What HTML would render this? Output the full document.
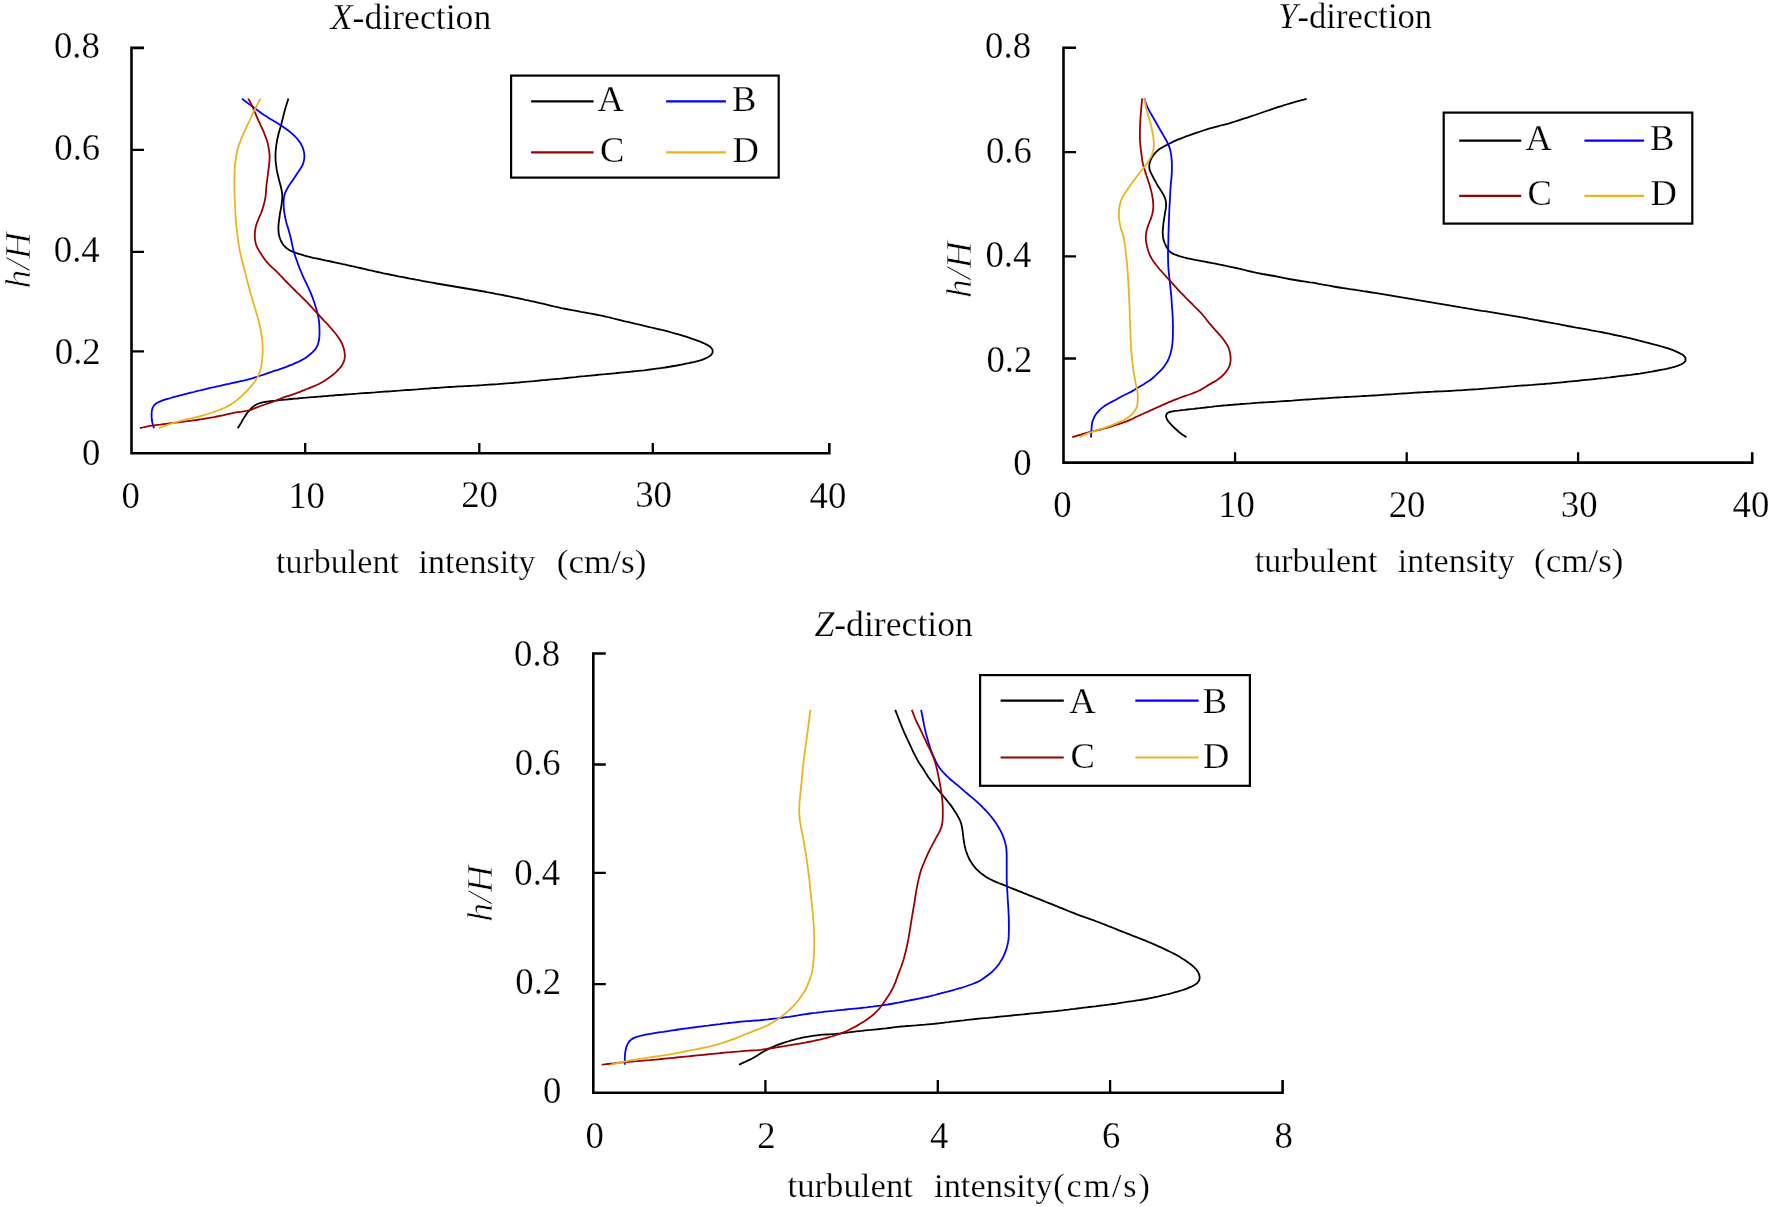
<!DOCTYPE html>
<html><head><meta charset="utf-8"><title>Turbulent intensity profiles</title>
<style>html,body{margin:0;padding:0;background:#fff;overflow:hidden;}svg{display:block;will-change:transform;}</style></head>
<body>
<svg width="1772" height="1207" viewBox="0 0 1772 1207" font-family="'Liberation Serif','Times New Roman',serif">
<rect width="1772" height="1207" fill="#fff"/>
<path d="M144.0,47.9H131.5V453.25H829.3V443.0" fill="none" stroke="#000" stroke-width="2.6" stroke-linejoin="miter"/>
<path d="M131.5,149.9H144.0M131.5,251.8H144.0M131.5,351.4H144.0M305.2,453.25V443.0M479.3,453.25V443.0M652.8,453.25V443.0" fill="none" stroke="#000" stroke-width="2.3"/>
<rect x="511.1" y="75.6" width="267.6" height="102.0" fill="none" stroke="#000" stroke-width="2.2"/>
<path d="M531.1,101.3H593.6" stroke="#000000" stroke-width="2.2"/>
<path d="M666.1,101.3H725.9" stroke="#0000ff" stroke-width="2.2"/>
<path d="M531.1,152.3H593.6" stroke="#9c0000" stroke-width="2.2"/>
<path d="M666.1,152.3H725.9" stroke="#ecb41c" stroke-width="2.2"/>
<path d="M288.4,98.6 L287.5,101.5 L286.6,104.3 L285.7,107.2 L284.9,110.1 L284.1,113.0 L283.4,115.9 L282.7,118.8 L281.9,121.7 L281.2,124.6 L280.4,127.5 L279.5,130.4 L278.7,133.3 L278.0,136.2 L277.3,139.1 L276.8,142.1 L276.3,145.0 L276.0,148.0 L275.7,151.0 L275.5,154.0 L275.5,157.0 L275.6,160.0 L275.8,163.0 L276.2,166.0 L276.6,168.9 L277.1,171.9 L277.8,174.8 L278.5,177.8 L279.2,180.7 L280.0,183.6 L280.8,186.5 L281.4,189.4 L282.0,192.3 L282.3,195.3 L282.2,198.3 L282.0,201.3 L281.6,204.3 L281.1,207.3 L280.6,210.2 L280.0,213.2 L279.6,216.1 L279.2,219.1 L278.8,222.1 L278.5,225.1 L278.4,228.1 L278.5,231.1 L278.8,234.1 L279.5,237.0 L280.5,239.8 L281.8,242.5 L283.4,245.0 L285.5,247.2 L287.8,249.1 L290.3,250.7 L293.1,251.9 L295.9,252.9 L298.8,253.8 L301.6,254.7 L304.5,255.6 L307.4,256.4 L310.3,257.1 L313.2,257.8 L316.2,258.4 L319.1,259.0 L322.0,259.6 L325.0,260.3 L327.9,260.9 L330.8,261.5 L333.8,262.2 L336.7,262.8 L339.6,263.4 L342.6,264.1 L345.5,264.7 L348.4,265.4 L351.4,266.0 L354.3,266.7 L357.2,267.4 L360.1,268.0 L363.1,268.7 L366.0,269.4 L368.9,270.1 L371.9,270.7 L374.8,271.4 L377.7,272.0 L380.6,272.6 L383.6,273.3 L386.5,273.9 L389.5,274.5 L392.4,275.1 L395.3,275.7 L398.3,276.3 L401.2,276.8 L404.2,277.4 L407.1,278.0 L410.1,278.6 L413.0,279.1 L416.0,279.7 L418.9,280.2 L421.9,280.8 L424.8,281.3 L427.8,281.9 L430.7,282.4 L433.7,282.9 L436.6,283.5 L439.6,284.0 L442.6,284.5 L445.5,285.0 L448.5,285.5 L451.4,286.0 L454.4,286.5 L457.3,287.0 L460.3,287.5 L463.3,288.0 L466.2,288.5 L469.2,289.0 L472.2,289.5 L475.1,290.0 L478.1,290.5 L481.0,291.0 L484.0,291.5 L486.9,292.1 L489.9,292.6 L492.8,293.2 L495.8,293.8 L498.7,294.3 L501.7,294.9 L504.6,295.5 L507.6,296.1 L510.5,296.7 L513.4,297.3 L516.4,297.9 L519.3,298.5 L522.3,299.1 L525.2,299.8 L528.1,300.4 L531.0,301.1 L534.0,301.7 L536.9,302.4 L539.8,303.1 L542.8,303.7 L545.7,304.4 L548.6,305.1 L551.5,305.8 L554.4,306.5 L557.4,307.2 L560.3,307.8 L563.2,308.5 L566.2,309.0 L569.1,309.6 L572.1,310.2 L575.0,310.7 L578.0,311.2 L580.9,311.8 L583.9,312.3 L586.8,312.8 L589.8,313.4 L592.7,313.9 L595.7,314.5 L598.6,315.1 L601.6,315.7 L604.5,316.3 L607.4,317.0 L610.3,317.7 L613.3,318.5 L616.2,319.2 L619.1,319.9 L622.0,320.6 L624.9,321.3 L627.9,321.9 L630.8,322.6 L633.7,323.3 L636.6,324.0 L639.5,324.7 L642.5,325.4 L645.4,326.1 L648.3,326.8 L651.2,327.5 L654.1,328.2 L657.1,328.9 L660.0,329.5 L662.9,330.2 L665.8,330.9 L668.7,331.7 L671.6,332.5 L674.5,333.3 L677.4,334.1 L680.3,334.9 L683.2,335.8 L686.0,336.7 L688.9,337.6 L691.7,338.6 L694.6,339.6 L697.4,340.6 L700.2,341.7 L702.9,342.8 L705.7,344.1 L708.3,345.5 L710.7,347.3 L712.5,349.7 L712.7,352.6 L711.1,355.1 L708.7,356.8 L706.0,358.2 L703.2,359.3 L700.4,360.3 L697.5,361.2 L694.6,361.9 L691.6,362.5 L688.7,363.1 L685.8,363.6 L682.8,364.3 L679.9,364.9 L676.9,365.5 L674.0,366.0 L671.0,366.5 L668.1,367.0 L665.1,367.5 L662.1,367.9 L659.2,368.3 L656.2,368.7 L653.2,369.1 L650.2,369.5 L647.3,369.9 L644.3,370.3 L641.3,370.6 L638.3,370.9 L635.3,371.2 L632.3,371.5 L629.3,371.8 L626.4,372.1 L623.4,372.4 L620.4,372.7 L617.4,373.0 L614.4,373.3 L611.4,373.6 L608.4,373.9 L605.5,374.2 L602.5,374.4 L599.5,374.7 L596.5,375.0 L593.5,375.3 L590.5,375.6 L587.5,375.9 L584.5,376.2 L581.5,376.4 L578.6,376.7 L575.6,377.1 L572.6,377.4 L569.6,377.7 L566.6,378.0 L563.6,378.3 L560.6,378.6 L557.7,378.8 L554.7,379.1 L551.7,379.4 L548.7,379.7 L545.7,380.0 L542.7,380.2 L539.7,380.5 L536.7,380.8 L533.7,381.1 L530.8,381.3 L527.8,381.6 L524.8,381.9 L521.8,382.2 L518.8,382.5 L515.8,382.7 L512.8,383.0 L509.8,383.2 L506.8,383.4 L503.8,383.6 L500.8,383.8 L497.9,384.1 L494.9,384.3 L491.9,384.5 L488.9,384.7 L485.9,384.9 L482.9,385.1 L479.9,385.3 L476.9,385.5 L473.9,385.6 L470.9,385.8 L467.9,386.0 L464.9,386.1 L461.9,386.3 L458.9,386.4 L455.9,386.6 L452.9,386.8 L449.9,387.0 L446.9,387.2 L443.9,387.4 L440.9,387.6 L437.9,387.8 L434.9,388.0 L431.9,388.2 L429.0,388.5 L426.0,388.7 L423.0,388.9 L420.0,389.1 L417.0,389.4 L414.0,389.6 L411.0,389.8 L408.0,390.0 L405.0,390.2 L402.0,390.4 L399.0,390.7 L396.0,390.9 L393.0,391.1 L390.0,391.3 L387.0,391.5 L384.0,391.7 L381.1,391.9 L378.1,392.1 L375.1,392.4 L372.1,392.6 L369.1,392.8 L366.1,393.0 L363.1,393.2 L360.1,393.4 L357.1,393.7 L354.1,393.9 L351.1,394.1 L348.1,394.3 L345.1,394.5 L342.1,394.8 L339.1,395.0 L336.2,395.2 L333.2,395.5 L330.2,395.7 L327.2,396.0 L324.2,396.2 L321.2,396.5 L318.2,396.7 L315.2,397.0 L312.2,397.2 L309.2,397.4 L306.2,397.7 L303.2,397.9 L300.3,398.2 L297.3,398.5 L294.3,398.7 L291.3,399.0 L288.3,399.3 L285.3,399.6 L282.3,399.9 L279.3,400.2 L276.4,400.6 L273.4,400.9 L270.4,401.2 L267.4,401.6 L264.4,402.0 L261.5,402.7 L258.6,403.5 L255.9,404.7 L253.4,406.4 L251.2,408.4 L249.1,410.6 L247.2,412.9 L245.5,415.4 L243.9,417.9 L242.4,420.5 L240.9,423.1 L239.3,425.7 L237.7,428.2" fill="none" stroke="#000000" stroke-width="1.8" stroke-linejoin="round"/>
<path d="M242.0,98.6 L244.3,100.5 L246.7,102.3 L249.1,104.1 L251.5,105.9 L254.0,107.6 L256.4,109.4 L258.8,111.2 L261.2,113.0 L263.7,114.7 L266.2,116.3 L268.7,117.9 L271.3,119.5 L273.9,121.0 L276.5,122.6 L279.0,124.2 L281.5,125.8 L284.0,127.5 L286.5,129.2 L288.9,131.0 L291.2,132.9 L293.4,134.9 L295.6,137.0 L297.6,139.2 L299.4,141.6 L301.0,144.1 L302.4,146.8 L303.4,149.7 L304.1,152.6 L304.4,155.6 L304.3,158.6 L303.7,161.5 L302.8,164.4 L301.5,167.1 L299.9,169.6 L298.2,172.0 L296.5,174.6 L294.9,177.1 L293.2,179.6 L291.4,182.0 L289.7,184.4 L288.2,187.0 L286.7,189.6 L285.4,192.3 L284.4,195.1 L283.9,198.1 L283.6,201.1 L283.6,204.1 L283.7,207.1 L284.0,210.1 L284.4,213.1 L284.9,216.0 L285.5,218.9 L286.2,221.9 L287.0,224.8 L287.9,227.6 L288.7,230.5 L289.6,233.4 L290.3,236.3 L291.0,239.2 L291.7,242.2 L292.3,245.1 L292.9,248.0 L293.6,250.9 L294.4,253.8 L295.4,256.7 L296.4,259.5 L297.4,262.3 L298.4,265.2 L299.5,268.0 L300.6,270.7 L301.8,273.5 L303.0,276.3 L304.2,279.0 L305.5,281.7 L306.8,284.4 L308.1,287.1 L309.4,289.8 L310.6,292.6 L311.7,295.4 L312.8,298.2 L313.8,301.0 L314.7,303.8 L315.6,306.7 L316.5,309.6 L317.2,312.5 L317.9,315.4 L318.6,318.3 L319.0,321.3 L319.3,324.3 L319.4,327.3 L319.5,330.3 L319.5,333.3 L319.4,336.3 L319.1,339.3 L318.5,342.2 L317.6,345.1 L316.3,347.8 L314.5,350.2 L312.4,352.4 L310.2,354.3 L307.8,356.2 L305.4,357.9 L302.8,359.5 L300.2,360.9 L297.5,362.2 L294.7,363.4 L292.0,364.6 L289.2,365.7 L286.4,366.8 L283.6,367.8 L280.7,368.8 L277.9,369.8 L275.0,370.7 L272.2,371.7 L269.3,372.6 L266.5,373.6 L263.7,374.6 L260.8,375.5 L258.0,376.5 L255.1,377.4 L252.2,378.3 L249.4,379.1 L246.5,379.9 L243.5,380.6 L240.6,381.2 L237.7,381.8 L234.7,382.5 L231.8,383.1 L228.9,383.8 L226.0,384.4 L223.0,385.1 L220.1,385.8 L217.2,386.4 L214.2,387.1 L211.3,387.7 L208.4,388.4 L205.5,389.1 L202.5,389.8 L199.6,390.5 L196.7,391.2 L193.8,392.0 L190.9,392.7 L188.0,393.4 L185.1,394.1 L182.2,394.9 L179.2,395.6 L176.3,396.4 L173.4,397.1 L170.6,398.0 L167.7,398.8 L164.8,399.7 L162.0,400.7 L159.2,401.8 L156.5,403.2 L154.2,405.1 L152.7,407.6 L151.9,410.5 L151.6,413.5 L151.6,416.5 L151.8,419.5 L152.3,422.5 L153.1,425.4 L154.1,428.2" fill="none" stroke="#0000ff" stroke-width="1.8" stroke-linejoin="round"/>
<path d="M248.2,98.6 L249.7,101.2 L251.1,103.9 L252.4,106.5 L253.7,109.3 L254.8,112.0 L256.0,114.8 L257.2,117.6 L258.4,120.3 L259.7,123.0 L260.9,125.8 L262.2,128.5 L263.4,131.2 L264.5,134.0 L265.6,136.8 L266.6,139.6 L267.5,142.5 L268.2,145.4 L268.7,148.4 L269.2,151.4 L269.5,154.3 L269.6,157.3 L269.5,160.3 L269.2,163.3 L268.9,166.3 L268.5,169.3 L268.1,172.3 L267.8,175.2 L267.4,178.2 L267.0,181.2 L266.6,184.2 L266.3,187.2 L266.1,190.1 L265.9,193.1 L265.6,196.1 L265.1,199.1 L264.5,202.0 L263.7,204.9 L262.9,207.8 L262.0,210.7 L260.9,213.5 L259.7,216.2 L258.5,219.0 L257.4,221.8 L256.4,224.6 L255.6,227.5 L255.1,230.4 L254.8,233.4 L254.8,236.4 L255.0,239.4 L255.5,242.4 L256.3,245.3 L257.5,248.0 L259.0,250.6 L260.6,253.2 L262.2,255.7 L263.9,258.2 L265.6,260.6 L267.6,262.9 L269.7,265.1 L271.8,267.1 L274.0,269.2 L276.2,271.2 L278.4,273.3 L280.4,275.5 L282.5,277.7 L284.5,279.9 L286.6,282.0 L288.8,284.2 L290.9,286.3 L293.0,288.4 L295.1,290.5 L297.2,292.6 L299.4,294.7 L301.6,296.8 L303.7,298.9 L305.8,301.0 L307.9,303.2 L310.0,305.4 L312.0,307.6 L314.0,309.8 L316.0,312.0 L318.1,314.2 L320.1,316.4 L322.2,318.6 L324.2,320.8 L326.3,323.0 L328.3,325.2 L330.3,327.5 L332.3,329.7 L334.2,332.0 L336.1,334.3 L337.9,336.7 L339.6,339.2 L341.1,341.8 L342.4,344.5 L343.4,347.3 L344.2,350.2 L344.7,353.2 L344.9,356.2 L344.5,359.2 L343.7,362.0 L342.3,364.7 L340.6,367.2 L338.6,369.5 L336.5,371.6 L334.3,373.6 L332.0,375.5 L329.6,377.3 L327.1,379.0 L324.6,380.7 L322.1,382.3 L319.4,383.7 L316.8,385.0 L314.0,386.2 L311.2,387.3 L308.4,388.4 L305.6,389.5 L302.8,390.7 L300.1,391.8 L297.3,392.9 L294.4,393.9 L291.6,394.8 L288.7,395.8 L285.9,396.7 L283.1,397.7 L280.3,398.8 L277.5,399.9 L274.7,401.0 L271.9,402.1 L269.0,403.1 L266.2,404.0 L263.3,405.0 L260.5,406.0 L257.7,407.1 L255.0,408.2 L252.2,409.3 L249.3,410.3 L246.4,410.9 L243.4,411.4 L240.4,411.8 L237.5,412.2 L234.5,412.7 L231.6,413.3 L228.6,413.9 L225.7,414.6 L222.8,415.3 L219.9,415.9 L216.9,416.5 L214.0,417.1 L211.0,417.6 L208.0,418.1 L205.1,418.6 L202.1,419.1 L199.2,419.5 L196.2,420.0 L193.2,420.4 L190.2,420.8 L187.3,421.2 L184.3,421.6 L181.3,421.9 L178.3,422.3 L175.4,422.7 L172.4,423.0 L169.4,423.4 L166.4,423.8 L163.4,424.2 L160.5,424.6 L157.5,424.9 L154.5,425.3 L151.5,425.7 L148.6,426.2 L145.6,426.8 L142.7,427.5 L139.8,428.2" fill="none" stroke="#9c0000" stroke-width="1.8" stroke-linejoin="round"/>
<path d="M260.6,98.6 L259.2,101.2 L257.7,103.9 L256.3,106.5 L254.9,109.2 L253.6,111.9 L252.3,114.6 L251.0,117.3 L249.8,120.0 L248.5,122.8 L247.3,125.5 L246.0,128.2 L244.8,130.9 L243.5,133.7 L242.3,136.4 L241.2,139.2 L240.1,142.0 L239.0,144.8 L238.1,147.7 L237.3,150.6 L236.7,153.5 L236.1,156.4 L235.7,159.4 L235.3,162.4 L235.0,165.4 L234.8,168.4 L234.6,171.4 L234.5,174.4 L234.5,177.4 L234.4,180.4 L234.4,183.4 L234.4,186.4 L234.5,189.4 L234.5,192.4 L234.6,195.4 L234.7,198.4 L234.9,201.4 L235.0,204.4 L235.1,207.4 L235.3,210.4 L235.4,213.4 L235.6,216.4 L235.8,219.4 L236.1,222.4 L236.3,225.3 L236.7,228.3 L237.0,231.3 L237.4,234.3 L237.7,237.3 L238.1,240.2 L238.5,243.2 L239.0,246.2 L239.5,249.1 L240.1,252.1 L240.7,255.0 L241.4,257.9 L242.2,260.8 L242.9,263.8 L243.7,266.7 L244.4,269.6 L245.2,272.5 L245.9,275.4 L246.6,278.3 L247.4,281.2 L248.1,284.1 L248.9,287.0 L249.7,289.9 L250.4,292.8 L251.3,295.7 L252.1,298.6 L253.0,301.5 L253.9,304.3 L254.7,307.2 L255.6,310.1 L256.4,313.0 L257.3,315.8 L258.1,318.7 L258.8,321.6 L259.6,324.6 L260.2,327.5 L260.8,330.4 L261.3,333.4 L261.7,336.4 L262.1,339.3 L262.4,342.3 L262.6,345.3 L262.7,348.3 L262.7,351.3 L262.6,354.3 L262.4,357.3 L262.1,360.3 L261.7,363.3 L261.3,366.2 L260.6,369.2 L259.8,372.1 L258.7,374.9 L257.4,377.5 L255.8,380.1 L254.1,382.6 L252.3,384.9 L250.3,387.2 L248.3,389.4 L246.2,391.6 L244.1,393.7 L241.9,395.8 L239.7,397.8 L237.4,399.7 L235.0,401.6 L232.6,403.3 L230.1,404.9 L227.4,406.4 L224.7,407.7 L222.0,408.9 L219.2,410.0 L216.4,411.0 L213.5,412.1 L210.7,413.0 L207.8,414.0 L205.0,414.8 L202.1,415.6 L199.2,416.4 L196.3,417.1 L193.3,417.8 L190.4,418.5 L187.5,419.2 L184.6,419.9 L181.7,420.6 L178.8,421.4 L175.9,422.2 L173.0,423.1 L170.1,424.0 L167.3,425.0 L164.5,426.0 L161.7,427.0 L158.9,428.2" fill="none" stroke="#ecb41c" stroke-width="1.8" stroke-linejoin="round"/>
<path d="M1076.0,47.7H1063.5V462.6H1752.2V452.3" fill="none" stroke="#000" stroke-width="2.6" stroke-linejoin="miter"/>
<path d="M1063.5,152.1H1076.0M1063.5,256.3H1076.0M1063.5,358.5H1076.0M1235.05,462.6V452.3M1406.7,462.6V452.3M1578.1,462.6V452.3" fill="none" stroke="#000" stroke-width="2.3"/>
<rect x="1443.7" y="112.6" width="248.6" height="111.0" fill="none" stroke="#000" stroke-width="2.2"/>
<path d="M1459.2,140.6H1521.3" stroke="#000000" stroke-width="2.2"/>
<path d="M1584.4,140.6H1644.1" stroke="#0000ff" stroke-width="2.2"/>
<path d="M1459.2,195.9H1521.3" stroke="#9c0000" stroke-width="2.2"/>
<path d="M1584.4,195.9H1644.1" stroke="#ecb41c" stroke-width="2.2"/>
<path d="M1306.7,98.8 L1303.8,99.6 L1300.9,100.3 L1298.0,101.1 L1295.1,101.9 L1292.2,102.8 L1289.3,103.7 L1286.5,104.5 L1283.6,105.4 L1280.7,106.3 L1277.9,107.2 L1275.0,108.2 L1272.1,109.1 L1269.3,110.1 L1266.4,111.0 L1263.6,112.0 L1260.8,113.0 L1257.9,114.0 L1255.1,115.0 L1252.2,115.9 L1249.4,116.8 L1246.5,117.8 L1243.7,118.7 L1240.8,119.6 L1237.9,120.6 L1235.1,121.5 L1232.2,122.4 L1229.3,123.3 L1226.4,124.1 L1223.5,124.8 L1220.6,125.5 L1217.7,126.3 L1214.8,127.1 L1211.9,127.9 L1209.0,128.7 L1206.1,129.6 L1203.3,130.5 L1200.4,131.5 L1197.6,132.4 L1194.7,133.4 L1191.9,134.4 L1189.1,135.4 L1186.2,136.4 L1183.4,137.5 L1180.6,138.6 L1177.8,139.7 L1175.0,140.8 L1172.3,142.1 L1169.7,143.5 L1167.0,144.9 L1164.3,146.3 L1161.7,147.7 L1159.1,149.3 L1156.9,151.2 L1154.8,153.4 L1153.0,155.8 L1151.4,158.4 L1150.2,161.1 L1149.4,164.0 L1149.2,167.0 L1149.7,170.0 L1150.8,172.7 L1152.2,175.4 L1153.6,178.1 L1155.0,180.7 L1156.5,183.4 L1157.9,186.0 L1159.6,188.5 L1161.2,191.0 L1162.8,193.6 L1164.2,196.2 L1165.3,199.0 L1166.0,201.9 L1166.1,204.9 L1165.9,207.9 L1165.4,210.9 L1164.9,213.9 L1164.4,216.8 L1163.9,219.8 L1163.5,222.8 L1163.2,225.8 L1162.9,228.7 L1162.7,231.8 L1162.8,234.8 L1163.1,237.7 L1163.8,240.7 L1164.9,243.5 L1166.1,246.2 L1167.6,248.8 L1169.4,251.2 L1171.8,253.1 L1174.5,254.4 L1177.3,255.4 L1180.1,256.4 L1183.0,257.2 L1185.9,258.0 L1188.9,258.6 L1191.8,259.2 L1194.8,259.8 L1197.7,260.3 L1200.7,260.9 L1203.6,261.4 L1206.6,262.0 L1209.5,262.6 L1212.5,263.2 L1215.4,263.7 L1218.4,264.3 L1221.3,264.9 L1224.3,265.5 L1227.2,266.2 L1230.2,266.8 L1233.1,267.4 L1236.0,268.0 L1239.0,268.7 L1241.9,269.3 L1244.8,270.0 L1247.7,270.8 L1250.7,271.5 L1253.6,272.2 L1256.5,272.8 L1259.5,273.4 L1262.4,274.0 L1265.4,274.5 L1268.3,275.0 L1271.3,275.5 L1274.3,276.0 L1277.2,276.6 L1280.2,277.2 L1283.1,277.8 L1286.1,278.4 L1289.0,279.0 L1292.0,279.5 L1294.9,280.0 L1297.9,280.5 L1300.9,281.0 L1303.8,281.4 L1306.8,281.8 L1309.8,282.3 L1312.8,282.7 L1315.7,283.2 L1318.7,283.8 L1321.6,284.3 L1324.6,284.8 L1327.6,285.4 L1330.5,285.9 L1333.5,286.5 L1336.4,287.0 L1339.4,287.5 L1342.4,288.0 L1345.3,288.4 L1348.3,288.9 L1351.3,289.3 L1354.2,289.7 L1357.2,290.2 L1360.2,290.6 L1363.2,291.1 L1366.1,291.5 L1369.1,292.0 L1372.1,292.5 L1375.0,292.9 L1378.0,293.4 L1381.0,293.9 L1383.9,294.4 L1386.9,294.9 L1389.9,295.4 L1392.8,295.9 L1395.8,296.4 L1398.8,296.9 L1401.7,297.4 L1404.7,297.9 L1407.7,298.4 L1410.6,298.9 L1413.6,299.4 L1416.5,299.9 L1419.5,300.4 L1422.5,300.9 L1425.4,301.4 L1428.4,301.9 L1431.4,302.4 L1434.3,302.9 L1437.3,303.4 L1440.3,303.9 L1443.2,304.4 L1446.2,304.9 L1449.2,305.4 L1452.1,305.9 L1455.1,306.4 L1458.1,306.9 L1461.0,307.4 L1464.0,307.8 L1466.9,308.3 L1469.9,308.8 L1472.9,309.3 L1475.8,309.8 L1478.8,310.3 L1481.8,310.8 L1484.7,311.2 L1487.7,311.7 L1490.7,312.2 L1493.6,312.7 L1496.6,313.2 L1499.6,313.7 L1502.5,314.2 L1505.5,314.7 L1508.5,315.2 L1511.4,315.6 L1514.4,316.1 L1517.4,316.6 L1520.3,317.2 L1523.3,317.7 L1526.2,318.2 L1529.2,318.8 L1532.2,319.3 L1535.1,319.9 L1538.1,320.4 L1541.0,321.0 L1544.0,321.5 L1546.9,322.1 L1549.9,322.6 L1552.9,323.1 L1555.8,323.7 L1558.8,324.2 L1561.7,324.8 L1564.7,325.4 L1567.6,326.0 L1570.6,326.5 L1573.5,327.1 L1576.5,327.7 L1579.4,328.2 L1582.4,328.7 L1585.4,329.2 L1588.3,329.7 L1591.3,330.3 L1594.2,330.8 L1597.2,331.4 L1600.1,331.9 L1603.1,332.5 L1606.0,333.1 L1609.0,333.7 L1611.9,334.3 L1614.9,335.0 L1617.8,335.6 L1620.7,336.2 L1623.7,336.9 L1626.6,337.5 L1629.5,338.2 L1632.5,338.9 L1635.4,339.6 L1638.3,340.4 L1641.2,341.1 L1644.1,341.9 L1647.0,342.6 L1649.9,343.4 L1652.8,344.2 L1655.7,344.9 L1658.6,345.7 L1661.5,346.5 L1664.4,347.3 L1667.3,348.2 L1670.1,349.2 L1673.0,350.2 L1675.8,351.4 L1678.5,352.6 L1681.2,354.0 L1683.7,355.6 L1685.5,358.0 L1685.5,360.9 L1683.5,363.0 L1680.9,364.5 L1678.1,365.6 L1675.2,366.6 L1672.3,367.4 L1669.4,368.1 L1666.5,368.8 L1663.5,369.4 L1660.6,369.9 L1657.6,370.5 L1654.7,371.0 L1651.7,371.6 L1648.8,372.1 L1645.8,372.6 L1642.8,373.1 L1639.9,373.6 L1636.9,374.0 L1633.9,374.4 L1630.9,374.8 L1627.9,375.1 L1624.9,375.5 L1622.0,375.8 L1619.0,376.2 L1616.0,376.6 L1613.0,377.0 L1610.0,377.4 L1607.1,377.7 L1604.1,378.1 L1601.1,378.4 L1598.1,378.7 L1595.1,379.0 L1592.1,379.3 L1589.1,379.6 L1586.1,379.9 L1583.1,380.2 L1580.1,380.5 L1577.2,380.8 L1574.2,381.1 L1571.2,381.4 L1568.2,381.7 L1565.2,382.0 L1562.2,382.3 L1559.2,382.6 L1556.2,382.9 L1553.2,383.2 L1550.2,383.5 L1547.2,383.7 L1544.2,384.0 L1541.2,384.2 L1538.2,384.4 L1535.2,384.6 L1532.2,384.9 L1529.2,385.1 L1526.3,385.3 L1523.3,385.5 L1520.3,385.7 L1517.3,385.9 L1514.3,386.2 L1511.3,386.4 L1508.3,386.6 L1505.3,386.9 L1502.3,387.1 L1499.3,387.4 L1496.3,387.6 L1493.3,387.9 L1490.3,388.1 L1487.3,388.4 L1484.3,388.6 L1481.3,388.8 L1478.3,389.1 L1475.3,389.3 L1472.3,389.5 L1469.3,389.7 L1466.3,389.9 L1463.3,390.1 L1460.3,390.3 L1457.3,390.4 L1454.3,390.6 L1451.3,390.8 L1448.3,391.0 L1445.3,391.1 L1442.3,391.3 L1439.3,391.4 L1436.3,391.5 L1433.3,391.7 L1430.3,391.8 L1427.3,392.0 L1424.3,392.1 L1421.3,392.3 L1418.3,392.5 L1415.3,392.7 L1412.3,392.9 L1409.3,393.1 L1406.3,393.3 L1403.3,393.5 L1400.3,393.7 L1397.3,393.9 L1394.3,394.1 L1391.3,394.3 L1388.3,394.5 L1385.3,394.7 L1382.3,394.9 L1379.3,395.1 L1376.3,395.3 L1373.3,395.5 L1370.3,395.7 L1367.3,395.9 L1364.3,396.0 L1361.3,396.2 L1358.3,396.3 L1355.3,396.5 L1352.3,396.6 L1349.3,396.8 L1346.3,397.0 L1343.3,397.2 L1340.3,397.3 L1337.3,397.5 L1334.3,397.7 L1331.3,397.9 L1328.3,398.1 L1325.3,398.3 L1322.3,398.5 L1319.3,398.7 L1316.3,398.9 L1313.3,399.1 L1310.3,399.3 L1307.3,399.5 L1304.3,399.7 L1301.3,399.9 L1298.3,400.1 L1295.3,400.3 L1292.3,400.6 L1289.3,400.8 L1286.3,401.0 L1283.3,401.2 L1280.3,401.4 L1277.3,401.6 L1274.3,401.8 L1271.3,402.0 L1268.3,402.1 L1265.3,402.3 L1262.3,402.5 L1259.3,402.7 L1256.3,402.9 L1253.3,403.1 L1250.3,403.4 L1247.3,403.6 L1244.3,403.8 L1241.3,404.0 L1238.3,404.3 L1235.3,404.5 L1232.3,404.8 L1229.3,405.0 L1226.3,405.3 L1223.3,405.5 L1220.3,405.8 L1217.3,406.1 L1214.4,406.4 L1211.4,406.8 L1208.4,407.1 L1205.4,407.5 L1202.4,407.8 L1199.4,408.2 L1196.4,408.5 L1193.5,408.9 L1190.5,409.2 L1187.5,409.5 L1184.5,409.9 L1181.5,410.2 L1178.5,410.6 L1175.5,410.9 L1172.6,411.4 L1169.6,412.0 L1167.0,413.3 L1165.9,416.0 L1166.8,418.9 L1168.4,421.4 L1170.3,423.7 L1172.4,425.9 L1174.6,428.0 L1176.8,430.0 L1179.0,432.0 L1181.4,433.9 L1183.9,435.6 L1186.4,437.2" fill="none" stroke="#000000" stroke-width="1.8" stroke-linejoin="round"/>
<path d="M1144.5,98.6 L1145.3,101.5 L1146.3,104.3 L1147.4,107.1 L1148.8,109.8 L1150.2,112.4 L1151.7,115.0 L1153.2,117.6 L1154.7,120.2 L1156.2,122.8 L1157.7,125.5 L1159.2,128.1 L1160.7,130.7 L1162.2,133.3 L1163.7,135.9 L1165.2,138.5 L1166.7,141.1 L1168.0,143.8 L1169.2,146.6 L1170.1,149.4 L1170.7,152.4 L1171.2,155.3 L1171.5,158.3 L1171.8,161.3 L1171.9,164.3 L1171.9,167.3 L1171.9,170.3 L1171.8,173.3 L1171.6,176.3 L1171.3,179.3 L1171.0,182.3 L1170.7,185.3 L1170.5,188.3 L1170.3,191.3 L1170.2,194.3 L1170.0,197.3 L1169.9,200.3 L1169.7,203.3 L1169.5,206.3 L1169.4,209.3 L1169.2,212.3 L1169.1,215.3 L1169.0,218.3 L1168.9,221.3 L1168.8,224.3 L1168.7,227.3 L1168.6,230.3 L1168.5,233.3 L1168.4,236.3 L1168.4,239.3 L1168.3,242.3 L1168.2,245.3 L1168.1,248.3 L1168.0,251.3 L1168.0,254.4 L1168.0,257.4 L1168.1,260.4 L1168.2,263.4 L1168.3,266.4 L1168.5,269.4 L1168.8,272.4 L1169.1,275.3 L1169.4,278.3 L1169.8,281.3 L1170.1,284.3 L1170.4,287.3 L1170.7,290.3 L1171.0,293.3 L1171.3,296.3 L1171.5,299.3 L1171.7,302.3 L1171.9,305.3 L1172.1,308.3 L1172.4,311.3 L1172.5,314.3 L1172.7,317.3 L1172.8,320.3 L1172.9,323.3 L1173.0,326.3 L1173.0,329.3 L1172.9,332.3 L1172.9,335.3 L1172.8,338.3 L1172.6,341.3 L1172.3,344.3 L1171.9,347.3 L1171.3,350.2 L1170.6,353.1 L1169.7,356.0 L1168.7,358.8 L1167.3,361.5 L1165.8,364.1 L1164.1,366.6 L1162.2,368.9 L1160.1,371.0 L1157.9,373.1 L1155.8,375.2 L1153.6,377.3 L1151.3,379.2 L1148.9,381.0 L1146.3,382.6 L1143.8,384.2 L1141.2,385.7 L1138.6,387.2 L1136.0,388.8 L1133.5,390.4 L1130.9,391.9 L1128.2,393.2 L1125.5,394.5 L1122.8,395.8 L1120.1,397.2 L1117.5,398.7 L1114.9,400.2 L1112.2,401.6 L1109.5,403.0 L1106.9,404.5 L1104.4,406.1 L1102.0,407.9 L1099.8,409.9 L1097.7,412.1 L1095.8,414.4 L1094.3,417.0 L1093.1,419.8 L1092.2,422.6 L1091.8,425.6 L1091.5,428.6 L1091.3,431.6 L1091.1,434.6 L1091.0,437.6" fill="none" stroke="#0000ff" stroke-width="1.8" stroke-linejoin="round"/>
<path d="M1142.2,98.3 L1141.9,101.3 L1141.6,104.3 L1141.3,107.3 L1141.1,110.3 L1140.8,113.3 L1140.6,116.3 L1140.4,119.3 L1140.2,122.3 L1140.1,125.3 L1140.0,128.3 L1139.9,131.3 L1139.9,134.4 L1139.9,137.4 L1140.0,140.4 L1140.2,143.4 L1140.5,146.4 L1140.8,149.4 L1141.2,152.4 L1141.6,155.4 L1142.0,158.3 L1142.4,161.3 L1143.0,164.3 L1143.8,167.2 L1144.7,170.1 L1145.6,172.9 L1146.5,175.8 L1147.5,178.7 L1148.4,181.5 L1149.4,184.4 L1150.2,187.3 L1151.0,190.2 L1151.7,193.1 L1152.3,196.1 L1152.8,199.1 L1153.1,202.0 L1153.3,205.0 L1153.3,208.1 L1152.9,211.0 L1152.3,214.0 L1151.5,216.9 L1150.5,219.7 L1149.3,222.5 L1148.2,225.3 L1147.3,228.2 L1146.5,231.1 L1146.0,234.1 L1145.8,237.1 L1145.9,240.1 L1146.3,243.0 L1147.0,246.0 L1147.7,248.9 L1148.6,251.8 L1149.7,254.6 L1150.9,257.3 L1152.5,259.9 L1154.2,262.4 L1156.0,264.8 L1157.9,267.2 L1159.8,269.5 L1161.8,271.7 L1163.8,274.0 L1165.8,276.2 L1167.8,278.5 L1169.9,280.7 L1171.9,282.9 L1173.9,285.1 L1176.0,287.4 L1178.0,289.6 L1180.1,291.8 L1182.2,294.0 L1184.3,296.1 L1186.4,298.3 L1188.5,300.4 L1190.6,302.5 L1192.8,304.7 L1194.9,306.8 L1197.0,308.9 L1199.1,311.0 L1201.2,313.2 L1203.2,315.5 L1205.1,317.8 L1207.0,320.2 L1208.8,322.6 L1210.8,324.9 L1212.7,327.2 L1214.7,329.4 L1216.7,331.7 L1218.7,333.9 L1220.7,336.2 L1222.7,338.5 L1224.5,340.9 L1226.2,343.4 L1227.7,346.0 L1228.9,348.7 L1229.7,351.6 L1230.3,354.6 L1230.6,357.6 L1230.6,360.6 L1230.1,363.6 L1229.3,366.4 L1227.9,369.2 L1226.2,371.6 L1224.2,373.9 L1222.1,376.0 L1219.8,378.0 L1217.4,379.8 L1214.9,381.4 L1212.2,382.9 L1209.6,384.4 L1207.0,385.9 L1204.5,387.5 L1201.9,389.1 L1199.3,390.5 L1196.5,391.8 L1193.7,392.9 L1190.9,394.0 L1188.1,395.0 L1185.2,395.9 L1182.4,396.9 L1179.5,398.0 L1176.7,399.1 L1173.9,400.2 L1171.1,401.3 L1168.4,402.4 L1165.6,403.6 L1162.8,404.8 L1160.1,406.1 L1157.3,407.3 L1154.6,408.6 L1151.8,409.8 L1149.1,411.1 L1146.4,412.3 L1143.6,413.5 L1140.9,414.8 L1138.1,416.0 L1135.4,417.3 L1132.7,418.7 L1130.0,419.9 L1127.2,421.1 L1124.4,422.2 L1121.5,423.2 L1118.7,424.1 L1115.8,425.0 L1112.9,425.9 L1110.0,426.8 L1107.2,427.6 L1104.3,428.5 L1101.4,429.3 L1098.4,430.0 L1095.5,430.7 L1092.6,431.4 L1089.6,432.1 L1086.7,432.9 L1083.8,433.7 L1080.9,434.6 L1078.1,435.4 L1075.2,436.3 L1072.3,437.2" fill="none" stroke="#9c0000" stroke-width="1.8" stroke-linejoin="round"/>
<path d="M1144.5,98.6 L1145.0,101.6 L1145.4,104.5 L1146.0,107.5 L1146.7,110.4 L1147.6,113.3 L1148.5,116.1 L1149.3,119.0 L1150.1,121.9 L1150.9,124.8 L1151.6,127.7 L1152.2,130.7 L1152.8,133.6 L1153.2,136.6 L1153.6,139.6 L1153.9,142.6 L1153.9,145.6 L1153.6,148.5 L1153.0,151.5 L1152.0,154.3 L1150.8,157.1 L1149.3,159.7 L1147.7,162.2 L1146.0,164.7 L1144.2,167.1 L1142.4,169.5 L1140.5,171.8 L1138.6,174.2 L1136.8,176.5 L1135.0,179.0 L1133.2,181.4 L1131.4,183.8 L1129.6,186.2 L1128.0,188.7 L1126.3,191.2 L1124.6,193.7 L1123.1,196.2 L1121.7,198.9 L1120.6,201.7 L1119.9,204.6 L1119.4,207.6 L1119.0,210.6 L1118.9,213.6 L1118.9,216.6 L1119.2,219.6 L1119.6,222.5 L1120.2,225.5 L1120.9,228.4 L1121.8,231.2 L1122.8,234.1 L1123.6,237.0 L1124.2,239.9 L1124.7,242.9 L1125.0,245.9 L1125.4,248.8 L1125.7,251.8 L1126.1,254.8 L1126.4,257.8 L1126.7,260.8 L1127.0,263.8 L1127.2,266.8 L1127.5,269.8 L1127.7,272.8 L1127.9,275.7 L1128.1,278.7 L1128.3,281.7 L1128.5,284.7 L1128.6,287.7 L1128.8,290.7 L1128.9,293.7 L1129.1,296.7 L1129.2,299.7 L1129.4,302.7 L1129.5,305.7 L1129.6,308.7 L1129.7,311.7 L1129.8,314.7 L1129.8,317.7 L1129.9,320.7 L1130.1,323.7 L1130.2,326.7 L1130.3,329.7 L1130.4,332.7 L1130.5,335.7 L1130.6,338.7 L1130.8,341.7 L1130.9,344.7 L1131.1,347.7 L1131.3,350.7 L1131.5,353.7 L1131.8,356.7 L1132.1,359.7 L1132.4,362.7 L1132.8,365.7 L1133.2,368.6 L1133.6,371.6 L1134.2,374.6 L1134.7,377.5 L1135.2,380.5 L1135.7,383.4 L1136.3,386.4 L1137.0,389.3 L1137.5,392.3 L1137.8,395.3 L1137.8,398.3 L1137.7,401.3 L1137.4,404.2 L1136.7,407.2 L1135.5,409.9 L1133.7,412.3 L1131.7,414.5 L1129.4,416.5 L1127.0,418.3 L1124.4,419.8 L1121.7,421.0 L1118.9,422.2 L1116.2,423.4 L1113.4,424.5 L1110.6,425.6 L1107.7,426.6 L1104.9,427.6 L1102.1,428.6 L1099.2,429.5 L1096.4,430.4 L1093.5,431.4 L1090.7,432.3 L1087.8,433.3 L1085.1,434.5 L1082.4,435.8 L1079.7,437.2" fill="none" stroke="#ecb41c" stroke-width="1.8" stroke-linejoin="round"/>
<path d="M605.8,653.5H593.3V1092.7H1282.6V1080.0" fill="none" stroke="#000" stroke-width="2.6" stroke-linejoin="miter"/>
<path d="M593.3,764.5H605.8M593.3,872.8H605.8M593.3,984.2H605.8M765.4,1092.7V1080.0M937.8,1092.7V1080.0M1110.1,1092.7V1080.0" fill="none" stroke="#000" stroke-width="2.3"/>
<rect x="980.1" y="675.1" width="269.8" height="110.7" fill="none" stroke="#000" stroke-width="2.2"/>
<path d="M1000.6,700.7H1063.8" stroke="#000000" stroke-width="2.2"/>
<path d="M1135.3,700.7H1198.6" stroke="#0000ff" stroke-width="2.2"/>
<path d="M1000.6,757.5H1063.8" stroke="#9c0000" stroke-width="2.2"/>
<path d="M1135.3,757.5H1198.6" stroke="#ecb41c" stroke-width="2.2"/>
<path d="M895.2,709.9 L896.3,712.7 L897.4,715.5 L898.5,718.3 L899.6,721.1 L900.7,723.9 L901.8,726.7 L903.0,729.5 L904.1,732.2 L905.4,735.0 L906.6,737.7 L907.9,740.4 L909.2,743.2 L910.5,745.9 L911.7,748.6 L913.0,751.3 L914.3,754.0 L915.7,756.7 L917.1,759.4 L918.6,762.0 L920.2,764.6 L921.9,767.0 L923.6,769.5 L925.2,772.1 L926.7,774.6 L928.4,777.2 L930.1,779.6 L931.9,782.0 L933.7,784.4 L935.6,786.8 L937.5,789.1 L939.4,791.4 L941.4,793.7 L943.3,796.0 L945.2,798.4 L947.1,800.7 L949.0,803.0 L950.8,805.4 L952.6,807.9 L954.3,810.4 L955.9,812.9 L957.4,815.5 L958.9,818.1 L960.2,820.8 L961.2,823.7 L961.9,826.6 L962.4,829.5 L962.8,832.5 L963.1,835.5 L963.5,838.5 L963.9,841.5 L964.4,844.4 L965.1,847.4 L965.8,850.3 L966.8,853.2 L967.9,856.0 L969.1,858.7 L970.6,861.3 L972.2,863.9 L974.0,866.3 L975.9,868.6 L978.1,870.7 L980.3,872.7 L982.7,874.5 L985.1,876.3 L987.7,877.9 L990.3,879.3 L993.0,880.6 L995.8,881.8 L998.6,883.0 L1001.4,884.1 L1004.2,885.2 L1007.0,886.3 L1009.7,887.5 L1012.5,888.6 L1015.3,889.7 L1018.1,890.8 L1020.9,891.9 L1023.7,893.1 L1026.5,894.2 L1029.3,895.3 L1032.1,896.4 L1034.9,897.5 L1037.7,898.6 L1040.5,899.7 L1043.3,900.8 L1046.1,902.0 L1048.9,903.1 L1051.7,904.2 L1054.5,905.3 L1057.2,906.4 L1060.0,907.6 L1062.8,908.7 L1065.6,909.8 L1068.4,911.0 L1071.2,912.1 L1074.0,913.2 L1076.8,914.3 L1079.6,915.3 L1082.4,916.4 L1085.3,917.4 L1088.1,918.4 L1090.9,919.4 L1093.8,920.4 L1096.6,921.5 L1099.4,922.5 L1102.2,923.6 L1105.0,924.6 L1107.8,925.8 L1110.6,926.9 L1113.4,928.0 L1116.2,929.1 L1119.0,930.3 L1121.8,931.4 L1124.6,932.5 L1127.4,933.6 L1130.2,934.7 L1133.0,935.8 L1135.8,936.9 L1138.6,938.0 L1141.4,939.1 L1144.2,940.2 L1147.0,941.3 L1149.8,942.5 L1152.5,943.6 L1155.3,944.8 L1158.0,946.1 L1160.8,947.3 L1163.5,948.6 L1166.2,949.9 L1168.9,951.2 L1171.6,952.5 L1174.3,953.9 L1176.9,955.3 L1179.6,956.8 L1182.1,958.4 L1184.7,960.0 L1187.1,961.7 L1189.6,963.5 L1192.0,965.3 L1194.2,967.3 L1196.3,969.4 L1198.0,971.9 L1199.2,974.7 L1199.7,977.6 L1199.1,980.5 L1197.4,982.9 L1194.9,984.7 L1192.3,986.2 L1189.6,987.4 L1186.8,988.6 L1183.9,989.6 L1181.1,990.5 L1178.2,991.4 L1175.3,992.2 L1172.4,993.0 L1169.5,993.8 L1166.6,994.5 L1163.7,995.2 L1160.7,995.9 L1157.8,996.6 L1154.9,997.2 L1151.9,997.8 L1149.0,998.4 L1146.0,999.0 L1143.0,999.5 L1140.1,1000.0 L1137.1,1000.4 L1134.1,1000.9 L1131.2,1001.3 L1128.2,1001.7 L1125.2,1002.2 L1122.2,1002.6 L1119.3,1003.1 L1116.3,1003.6 L1113.3,1004.0 L1110.3,1004.4 L1107.3,1004.8 L1104.4,1005.2 L1101.4,1005.5 L1098.4,1005.9 L1095.4,1006.3 L1092.4,1006.6 L1089.4,1007.0 L1086.4,1007.4 L1083.5,1007.7 L1080.5,1008.1 L1077.5,1008.5 L1074.5,1008.9 L1071.5,1009.2 L1068.5,1009.6 L1065.5,1009.9 L1062.5,1010.3 L1059.6,1010.6 L1056.6,1011.0 L1053.6,1011.3 L1050.6,1011.6 L1047.6,1011.9 L1044.6,1012.2 L1041.6,1012.5 L1038.6,1012.8 L1035.6,1013.1 L1032.6,1013.4 L1029.6,1013.7 L1026.6,1014.0 L1023.6,1014.3 L1020.6,1014.6 L1017.7,1014.9 L1014.7,1015.2 L1011.7,1015.5 L1008.7,1015.8 L1005.7,1016.1 L1002.7,1016.4 L999.7,1016.7 L996.7,1017.0 L993.7,1017.3 L990.7,1017.6 L987.7,1017.9 L984.7,1018.1 L981.7,1018.4 L978.7,1018.7 L975.7,1019.0 L972.7,1019.3 L969.7,1019.6 L966.8,1019.9 L963.8,1020.3 L960.8,1020.6 L957.8,1021.0 L954.8,1021.3 L951.8,1021.7 L948.8,1022.1 L945.8,1022.4 L942.9,1022.8 L939.9,1023.2 L936.9,1023.5 L933.9,1023.8 L930.9,1024.1 L927.9,1024.4 L924.9,1024.7 L921.9,1024.9 L918.9,1025.1 L915.9,1025.4 L912.9,1025.6 L909.9,1025.8 L906.9,1026.0 L903.9,1026.3 L900.9,1026.5 L897.9,1026.8 L894.9,1027.2 L891.9,1027.6 L889.0,1028.0 L886.0,1028.4 L883.0,1028.7 L880.0,1029.0 L877.0,1029.3 L874.0,1029.6 L871.0,1029.9 L868.0,1030.1 L865.0,1030.4 L862.0,1030.8 L859.0,1031.1 L856.0,1031.4 L853.1,1031.8 L850.1,1032.2 L847.1,1032.5 L844.1,1032.9 L841.1,1033.3 L838.1,1033.6 L835.1,1033.9 L832.1,1034.1 L829.1,1034.3 L826.1,1034.5 L823.1,1034.7 L820.1,1034.9 L817.1,1035.3 L814.1,1035.7 L811.2,1036.1 L808.2,1036.6 L805.2,1037.1 L802.3,1037.6 L799.3,1038.3 L796.4,1039.0 L793.5,1039.9 L790.6,1040.7 L787.7,1041.5 L784.9,1042.4 L782.0,1043.3 L779.2,1044.3 L776.4,1045.4 L773.6,1046.5 L770.8,1047.8 L768.1,1049.1 L765.5,1050.5 L762.8,1052.0 L760.3,1053.6 L757.8,1055.2 L755.2,1056.8 L752.6,1058.2 L749.9,1059.6 L747.2,1060.9 L744.5,1062.2 L741.7,1063.4 L739.0,1064.7" fill="none" stroke="#000000" stroke-width="1.8" stroke-linejoin="round"/>
<path d="M921.1,709.9 L921.7,712.9 L922.3,715.8 L922.9,718.8 L923.5,721.7 L924.0,724.7 L924.6,727.6 L925.3,730.6 L926.0,733.5 L926.8,736.4 L927.6,739.3 L928.4,742.2 L929.3,745.1 L930.2,748.0 L931.2,750.8 L932.3,753.6 L933.5,756.4 L934.8,759.1 L936.0,761.8 L937.4,764.5 L939.0,767.1 L940.8,769.5 L942.8,771.8 L944.8,774.0 L946.9,776.1 L949.1,778.2 L951.4,780.2 L953.7,782.1 L956.0,784.0 L958.4,785.9 L960.7,787.9 L962.9,789.9 L965.2,791.9 L967.5,793.8 L969.8,795.7 L972.2,797.6 L974.5,799.6 L976.7,801.6 L978.9,803.6 L981.1,805.7 L983.2,807.9 L985.3,810.0 L987.3,812.2 L989.4,814.5 L991.3,816.8 L993.1,819.2 L994.9,821.6 L996.6,824.1 L998.2,826.7 L999.7,829.2 L1001.1,831.9 L1002.4,834.6 L1003.5,837.4 L1004.5,840.3 L1005.3,843.2 L1006.0,846.1 L1006.4,849.1 L1006.6,852.1 L1006.7,855.1 L1006.7,858.1 L1006.7,861.1 L1006.7,864.2 L1006.7,867.2 L1006.7,870.2 L1006.7,873.2 L1006.7,876.2 L1006.7,879.2 L1006.8,882.2 L1006.9,885.2 L1007.1,888.3 L1007.3,891.3 L1007.5,894.3 L1007.6,897.3 L1007.8,900.3 L1008.0,903.3 L1008.2,906.3 L1008.4,909.3 L1008.5,912.3 L1008.7,915.3 L1008.8,918.3 L1008.8,921.4 L1008.9,924.4 L1008.9,927.4 L1008.9,930.4 L1008.8,933.4 L1008.7,936.4 L1008.5,939.4 L1008.0,942.4 L1007.4,945.3 L1006.6,948.2 L1005.6,951.1 L1004.6,953.9 L1003.3,956.7 L1001.9,959.3 L1000.3,961.9 L998.7,964.4 L996.8,966.8 L994.8,969.0 L992.7,971.2 L990.4,973.2 L988.1,975.0 L985.7,976.8 L983.2,978.6 L980.7,980.2 L978.1,981.7 L975.3,982.9 L972.5,984.0 L969.7,985.0 L966.8,986.0 L964.0,987.0 L961.1,987.9 L958.2,988.7 L955.3,989.5 L952.4,990.3 L949.5,991.1 L946.6,991.9 L943.6,992.6 L940.7,993.4 L937.8,994.2 L934.9,995.0 L932.0,995.7 L929.1,996.5 L926.1,997.1 L923.2,997.7 L920.2,998.3 L917.3,998.9 L914.3,999.5 L911.4,1000.0 L908.4,1000.6 L905.4,1001.2 L902.5,1001.8 L899.5,1002.4 L896.6,1002.9 L893.6,1003.5 L890.6,1004.0 L887.7,1004.5 L884.7,1004.9 L881.7,1005.4 L878.7,1005.8 L875.7,1006.2 L872.7,1006.6 L869.8,1006.9 L866.8,1007.3 L863.8,1007.6 L860.8,1008.0 L857.8,1008.3 L854.8,1008.6 L851.8,1008.9 L848.8,1009.2 L845.8,1009.5 L842.8,1009.8 L839.8,1010.1 L836.8,1010.4 L833.8,1010.8 L830.8,1011.1 L827.8,1011.4 L824.8,1011.7 L821.8,1012.1 L818.8,1012.4 L815.8,1012.8 L812.8,1013.1 L809.9,1013.5 L806.9,1014.0 L803.9,1014.4 L800.9,1014.9 L798.0,1015.4 L795.0,1015.8 L792.0,1016.3 L789.0,1016.8 L786.0,1017.2 L783.1,1017.6 L780.1,1018.0 L777.1,1018.4 L774.1,1018.7 L771.1,1019.0 L768.1,1019.4 L765.1,1019.7 L762.1,1020.0 L759.1,1020.3 L756.1,1020.5 L753.1,1020.7 L750.1,1021.0 L747.1,1021.2 L744.1,1021.4 L741.1,1021.7 L738.1,1022.0 L735.1,1022.3 L732.1,1022.7 L729.1,1023.0 L726.1,1023.3 L723.1,1023.7 L720.1,1024.1 L717.1,1024.4 L714.1,1024.8 L711.1,1025.2 L708.2,1025.6 L705.2,1025.9 L702.2,1026.3 L699.2,1026.7 L696.2,1027.1 L693.2,1027.5 L690.2,1027.9 L687.2,1028.3 L684.3,1028.7 L681.3,1029.1 L678.3,1029.5 L675.3,1030.0 L672.3,1030.4 L669.4,1030.9 L666.4,1031.3 L663.4,1031.8 L660.4,1032.2 L657.4,1032.7 L654.5,1033.2 L651.5,1033.7 L648.5,1034.2 L645.6,1034.7 L642.6,1035.3 L639.7,1036.0 L636.8,1036.8 L634.0,1037.9 L631.4,1039.4 L629.2,1041.5 L627.6,1044.0 L626.4,1046.8 L625.7,1049.7 L625.2,1052.7 L624.9,1055.7 L624.8,1058.7 L624.8,1061.7 L624.8,1064.7" fill="none" stroke="#0000ff" stroke-width="1.8" stroke-linejoin="round"/>
<path d="M911.8,709.9 L912.9,712.7 L914.0,715.5 L915.1,718.3 L916.3,721.1 L917.6,723.8 L918.9,726.5 L920.2,729.2 L921.5,731.9 L922.8,734.6 L924.1,737.3 L925.4,740.1 L926.6,742.8 L927.9,745.5 L929.3,748.2 L930.6,750.9 L931.9,753.6 L933.1,756.4 L934.1,759.2 L935.1,762.1 L935.9,765.0 L936.6,767.9 L937.3,770.8 L937.9,773.8 L938.5,776.7 L939.1,779.7 L939.7,782.6 L940.2,785.6 L940.7,788.5 L941.2,791.5 L941.6,794.5 L942.0,797.5 L942.3,800.5 L942.6,803.5 L942.7,806.5 L942.8,809.5 L942.8,812.5 L942.8,815.5 L942.7,818.5 L942.5,821.5 L942.1,824.5 L941.3,827.4 L940.2,830.2 L938.9,832.9 L937.4,835.5 L935.9,838.1 L934.5,840.8 L933.1,843.4 L931.7,846.1 L930.3,848.8 L929.0,851.5 L927.7,854.2 L926.5,856.9 L925.2,859.7 L924.1,862.5 L922.9,865.2 L921.8,868.0 L920.8,870.9 L920.0,873.8 L919.2,876.7 L918.5,879.6 L917.9,882.6 L917.3,885.5 L916.7,888.5 L916.2,891.4 L915.7,894.4 L915.2,897.4 L914.8,900.3 L914.3,903.3 L913.8,906.3 L913.3,909.2 L912.8,912.2 L912.3,915.2 L911.8,918.1 L911.3,921.1 L910.8,924.1 L910.4,927.1 L909.9,930.0 L909.4,933.0 L908.9,936.0 L908.4,938.9 L907.8,941.9 L907.2,944.8 L906.6,947.8 L905.9,950.7 L905.2,953.6 L904.4,956.5 L903.6,959.4 L902.7,962.3 L901.7,965.2 L900.7,968.0 L899.6,970.8 L898.5,973.6 L897.5,976.4 L896.5,979.3 L895.5,982.1 L894.3,984.9 L893.1,987.6 L891.7,990.3 L890.2,992.9 L888.6,995.4 L886.9,997.9 L885.2,1000.4 L883.5,1002.9 L881.8,1005.4 L880.0,1007.8 L878.0,1010.0 L875.9,1012.2 L873.7,1014.3 L871.4,1016.2 L869.0,1018.0 L866.6,1019.8 L864.1,1021.4 L861.5,1023.0 L858.9,1024.6 L856.3,1026.1 L853.7,1027.5 L851.0,1028.9 L848.3,1030.2 L845.6,1031.5 L842.8,1032.6 L840.0,1033.7 L837.1,1034.7 L834.3,1035.6 L831.4,1036.5 L828.5,1037.3 L825.6,1038.1 L822.7,1038.9 L819.8,1039.6 L816.8,1040.2 L813.9,1040.9 L810.9,1041.5 L808.0,1042.0 L805.0,1042.6 L802.1,1043.1 L799.1,1043.7 L796.1,1044.2 L793.2,1044.7 L790.2,1045.2 L787.2,1045.7 L784.3,1046.2 L781.3,1046.6 L778.3,1047.1 L775.4,1047.6 L772.4,1048.0 L769.4,1048.5 L766.4,1049.0 L763.5,1049.4 L760.5,1049.8 L757.5,1050.1 L754.5,1050.3 L751.5,1050.5 L748.5,1050.7 L745.5,1050.9 L742.5,1051.1 L739.5,1051.4 L736.5,1051.6 L733.5,1051.9 L730.5,1052.2 L727.5,1052.4 L724.5,1052.7 L721.5,1053.0 L718.5,1053.3 L715.5,1053.6 L712.5,1053.9 L709.5,1054.2 L706.5,1054.5 L703.5,1054.8 L700.5,1055.1 L697.5,1055.4 L694.5,1055.7 L691.5,1056.0 L688.6,1056.3 L685.6,1056.6 L682.6,1056.9 L679.6,1057.2 L676.6,1057.5 L673.6,1057.8 L670.6,1058.1 L667.6,1058.4 L664.6,1058.7 L661.6,1059.0 L658.6,1059.3 L655.6,1059.6 L652.6,1059.9 L649.6,1060.2 L646.6,1060.4 L643.6,1060.6 L640.6,1060.8 L637.6,1061.1 L634.6,1061.3 L631.6,1061.5 L628.6,1061.8 L625.6,1062.1 L622.6,1062.4 L619.6,1062.7 L616.7,1063.0 L613.7,1063.4 L610.7,1063.7 L607.7,1064.0 L604.7,1064.4 L601.7,1064.7" fill="none" stroke="#9c0000" stroke-width="1.8" stroke-linejoin="round"/>
<path d="M810.4,709.9 L810.0,712.9 L809.6,715.9 L809.3,718.9 L808.9,721.9 L808.5,724.9 L808.1,727.8 L807.7,730.8 L807.3,733.8 L806.9,736.8 L806.5,739.8 L806.1,742.8 L805.7,745.8 L805.3,748.7 L804.9,751.7 L804.4,754.7 L804.1,757.7 L803.7,760.7 L803.3,763.7 L803.0,766.7 L802.7,769.7 L802.4,772.7 L802.2,775.7 L801.9,778.7 L801.6,781.7 L801.3,784.7 L801.0,787.7 L800.7,790.7 L800.3,793.7 L800.1,796.7 L799.8,799.7 L799.5,802.7 L799.4,805.7 L799.2,808.7 L799.2,811.7 L799.4,814.7 L799.6,817.7 L799.9,820.7 L800.4,823.7 L800.9,826.7 L801.4,829.7 L802.1,832.6 L802.7,835.6 L803.2,838.5 L803.8,841.5 L804.3,844.5 L804.7,847.4 L805.2,850.4 L805.8,853.4 L806.2,856.4 L806.7,859.3 L807.1,862.3 L807.5,865.3 L807.9,868.3 L808.3,871.3 L808.7,874.3 L809.1,877.3 L809.4,880.3 L809.7,883.3 L810.0,886.3 L810.3,889.3 L810.6,892.3 L810.9,895.3 L811.2,898.3 L811.6,901.3 L811.9,904.2 L812.2,907.2 L812.5,910.2 L812.8,913.2 L813.0,916.3 L813.3,919.3 L813.5,922.3 L813.7,925.3 L813.9,928.3 L814.0,931.3 L814.1,934.3 L814.2,937.3 L814.2,940.3 L814.2,943.3 L814.2,946.4 L814.1,949.4 L814.1,952.4 L813.9,955.4 L813.7,958.4 L813.4,961.4 L813.1,964.4 L812.8,967.4 L812.4,970.4 L811.8,973.3 L810.9,976.2 L809.9,979.1 L808.9,981.9 L807.8,984.7 L806.6,987.5 L805.2,990.2 L803.7,992.7 L802.0,995.3 L800.3,997.7 L798.5,1000.2 L796.6,1002.5 L794.6,1004.8 L792.5,1006.9 L790.3,1009.0 L788.1,1011.1 L785.8,1013.0 L783.5,1014.9 L781.1,1016.7 L778.6,1018.5 L776.2,1020.2 L773.6,1021.9 L771.1,1023.4 L768.4,1024.9 L765.7,1026.2 L762.9,1027.4 L760.1,1028.5 L757.3,1029.6 L754.5,1030.7 L751.7,1031.8 L748.9,1032.9 L746.1,1034.0 L743.3,1035.1 L740.5,1036.3 L737.7,1037.5 L735.0,1038.6 L732.1,1039.7 L729.3,1040.7 L726.5,1041.7 L723.6,1042.6 L720.7,1043.5 L717.8,1044.3 L714.9,1045.2 L712.0,1045.9 L709.1,1046.7 L706.1,1047.3 L703.2,1047.9 L700.2,1048.5 L697.3,1049.1 L694.3,1049.7 L691.3,1050.2 L688.4,1050.8 L685.4,1051.4 L682.5,1052.0 L679.5,1052.6 L676.6,1053.2 L673.6,1053.8 L670.6,1054.3 L667.7,1054.8 L664.7,1055.2 L661.7,1055.7 L658.7,1056.1 L655.7,1056.5 L652.8,1057.0 L649.8,1057.4 L646.8,1057.9 L643.8,1058.3 L640.8,1058.7 L637.8,1059.2 L634.9,1059.7 L631.9,1060.2 L628.9,1060.7 L626.0,1061.3 L623.0,1061.9 L620.1,1062.5 L617.1,1063.2 L614.2,1063.9 L611.3,1064.7" fill="none" stroke="#ecb41c" stroke-width="1.8" stroke-linejoin="round"/>
<g fill="#000" stroke="#fff" stroke-width="0.25">
<text x="330.80" y="28.60" font-size="35" textLength="160.5" lengthAdjust="spacingAndGlyphs"><tspan font-style="italic">X</tspan>-direction</text>
<text x="53.90" y="58.20" font-size="37" textLength="45.94" lengthAdjust="spacingAndGlyphs">0.8</text>
<text x="54.30" y="159.60" font-size="37" textLength="45.94" lengthAdjust="spacingAndGlyphs">0.6</text>
<text x="53.80" y="262.30" font-size="37" textLength="45.94" lengthAdjust="spacingAndGlyphs">0.4</text>
<text x="54.80" y="363.60" font-size="37" textLength="45.94" lengthAdjust="spacingAndGlyphs">0.2</text>
<text x="82.00" y="465.40" font-size="37" textLength="18.38" lengthAdjust="spacingAndGlyphs">0</text>
<text x="121.40" y="507.50" font-size="37" textLength="18.38" lengthAdjust="spacingAndGlyphs">0</text>
<text x="288.20" y="507.50" font-size="37" textLength="36.75" lengthAdjust="spacingAndGlyphs">10</text>
<text x="461.20" y="507.20" font-size="37" textLength="36.75" lengthAdjust="spacingAndGlyphs">20</text>
<text x="635.20" y="507.40" font-size="37" textLength="36.75" lengthAdjust="spacingAndGlyphs">30</text>
<text x="809.60" y="507.50" font-size="37" textLength="36.75" lengthAdjust="spacingAndGlyphs">40</text>
<text x="276.10" y="572.50" font-size="34">turbulent</text>
<text x="418.50" y="572.50" font-size="34">intensity</text>
<text x="556.80" y="572.50" font-size="34" textLength="89.5" lengthAdjust="spacingAndGlyphs">(cm/s)</text>
<text transform="translate(29.75,260.30) rotate(-90)" text-anchor="middle" font-size="36" font-style="italic" textLength="56.5" lengthAdjust="spacingAndGlyphs" stroke-width="0.7">h/H</text>
<text x="597.60" y="110.80" font-size="36.5">A</text>
<text x="731.90" y="110.80" font-size="36.5">B</text>
<text x="600.00" y="162.30" font-size="36.5">C</text>
<text x="732.40" y="161.80" font-size="36.5">D</text>
<text x="1278.20" y="28.30" font-size="35" textLength="154" lengthAdjust="spacingAndGlyphs"><tspan font-style="italic">Y</tspan>-direction</text>
<text x="985.10" y="57.90" font-size="37" textLength="45.94" lengthAdjust="spacingAndGlyphs">0.8</text>
<text x="985.90" y="162.70" font-size="37" textLength="45.94" lengthAdjust="spacingAndGlyphs">0.6</text>
<text x="985.40" y="266.60" font-size="37" textLength="45.94" lengthAdjust="spacingAndGlyphs">0.4</text>
<text x="986.40" y="371.80" font-size="37" textLength="45.94" lengthAdjust="spacingAndGlyphs">0.2</text>
<text x="1013.20" y="474.70" font-size="37" textLength="18.38" lengthAdjust="spacingAndGlyphs">0</text>
<text x="1053.30" y="516.60" font-size="37" textLength="18.38" lengthAdjust="spacingAndGlyphs">0</text>
<text x="1218.10" y="516.50" font-size="37" textLength="36.75" lengthAdjust="spacingAndGlyphs">10</text>
<text x="1388.70" y="516.80" font-size="37" textLength="36.75" lengthAdjust="spacingAndGlyphs">20</text>
<text x="1560.80" y="516.70" font-size="37" textLength="36.75" lengthAdjust="spacingAndGlyphs">30</text>
<text x="1732.50" y="516.50" font-size="37" textLength="36.75" lengthAdjust="spacingAndGlyphs">40</text>
<text x="1254.80" y="572.20" font-size="34">turbulent</text>
<text x="1397.70" y="572.20" font-size="34">intensity</text>
<text x="1534.00" y="572.20" font-size="34" textLength="89.5" lengthAdjust="spacingAndGlyphs">(cm/s)</text>
<text transform="translate(971.25,269.65) rotate(-90)" text-anchor="middle" font-size="36" font-style="italic" textLength="56.5" lengthAdjust="spacingAndGlyphs" stroke-width="0.7">h/H</text>
<text x="1525.50" y="149.60" font-size="36.5">A</text>
<text x="1649.90" y="149.60" font-size="36.5">B</text>
<text x="1527.50" y="205.30" font-size="36.5">C</text>
<text x="1650.40" y="205.30" font-size="36.5">D</text>
<text x="814.40" y="636.10" font-size="35" textLength="158.5" lengthAdjust="spacingAndGlyphs"><tspan font-style="italic">Z</tspan>-direction</text>
<text x="514.10" y="666.30" font-size="37" textLength="45.94" lengthAdjust="spacingAndGlyphs">0.8</text>
<text x="514.80" y="774.90" font-size="37" textLength="45.94" lengthAdjust="spacingAndGlyphs">0.6</text>
<text x="514.30" y="884.50" font-size="37" textLength="45.94" lengthAdjust="spacingAndGlyphs">0.4</text>
<text x="515.30" y="994.10" font-size="37" textLength="45.94" lengthAdjust="spacingAndGlyphs">0.2</text>
<text x="543.00" y="1102.70" font-size="37" textLength="18.38" lengthAdjust="spacingAndGlyphs">0</text>
<text x="585.60" y="1148.00" font-size="37" textLength="18.38" lengthAdjust="spacingAndGlyphs">0</text>
<text x="757.30" y="1148.00" font-size="37" textLength="18.38" lengthAdjust="spacingAndGlyphs">2</text>
<text x="929.90" y="1148.00" font-size="37" textLength="18.38" lengthAdjust="spacingAndGlyphs">4</text>
<text x="1102.10" y="1148.00" font-size="37" textLength="18.38" lengthAdjust="spacingAndGlyphs">6</text>
<text x="1274.50" y="1148.00" font-size="37" textLength="18.38" lengthAdjust="spacingAndGlyphs">8</text>
<text x="787.50" y="1197.00" font-size="34" textLength="125.5" lengthAdjust="spacingAndGlyphs">turbulent</text>
<text x="934.10" y="1197.00" font-size="34" textLength="118.5" lengthAdjust="spacingAndGlyphs">intensity</text>
<text x="1053.30" y="1197.00" font-size="34" textLength="96.5" lengthAdjust="spacing">(cm/s)</text>
<text transform="translate(492.05,893.50) rotate(-90)" text-anchor="middle" font-size="36" font-style="italic" textLength="56.5" lengthAdjust="spacingAndGlyphs" stroke-width="0.7">h/H</text>
<text x="1069.20" y="712.60" font-size="36.5">A</text>
<text x="1202.70" y="712.60" font-size="36.5">B</text>
<text x="1070.50" y="768.00" font-size="36.5">C</text>
<text x="1202.90" y="768.00" font-size="36.5">D</text>
</g>
</svg>
</body></html>
